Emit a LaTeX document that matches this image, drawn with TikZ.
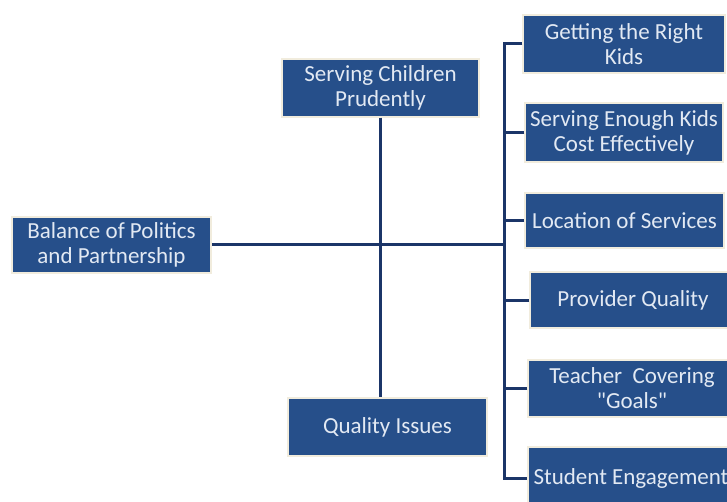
\documentclass[tikz,border=0pt]{standalone}
\usepackage{fontspec}
\setmainfont{Carlito}[Ligatures=TeXOff]
\definecolor{boxblue}{HTML}{264F8A}
\definecolor{boxtext}{HTML}{E2E9F3}
\definecolor{linknavy}{HTML}{1B3568}
\definecolor{glow}{HTML}{F1ECDD}
\tikzset{
  topic/.style={rectangle, fill=boxblue, draw=glow, line width=1.5pt,
    text=boxtext, align=center, inner sep=0pt,
    font=\fontsize{23}{25}\selectfont},
  link/.style={draw=linknavy, line width=3pt}
}
\begin{document}
\begin{tikzpicture}[x=1pt,y=-1pt] %Mapa de factores
            \useasboundingbox (0,0) rectangle (727,502);
            \clip (0,0) rectangle (727,502);

            \node[topic, minimum width=199pt, minimum height=56pt] (bal) at (111.5,245) {Balance of Politics\\and Partnership};
            \node[topic, minimum width=197pt, minimum height=58pt] (serv) at (380.5,88) {Serving Children\\Prudently};
            \node[topic, minimum width=199pt, minimum height=58pt] (qual) at (387.5,427) {Quality Issues};

            \node[topic, minimum width=202pt, minimum height=58pt] (get) at (624,44) {Getting the Right\\Kids};
            \node[topic, minimum width=198pt, minimum height=59pt] (enough) at (624,132.5) {Serving Enough Kids\\Cost Effectively};
            \node[topic, minimum width=199pt, minimum height=55pt] (loc) at (624.5,220.5) {Location of Services};
            \node[topic, minimum width=206pt, minimum height=56pt] (prov) at (633,300) {Provider Quality};
            \node[topic, minimum width=208pt, minimum height=57pt] (teach) at (632,388.5) {Teacher\ \ Covering\\"Goals"};
            \node[topic, minimum width=206pt, minimum height=63pt] (stud) at (631,478.5) {Student Engagement};

            \coordinate (bus) at (504,245);

            \draw[link] (bal) -- (bus);
            \draw[link] (serv.south) -- (serv.south |- qual.north);
            \draw[link] (get.west) -| (bus) |- (stud.west);
            \foreach \n in {enough,loc,prov,teach}
                \draw[link] (\n.west) -- (\n.west -| bus);
\end{tikzpicture}
\end{document}
